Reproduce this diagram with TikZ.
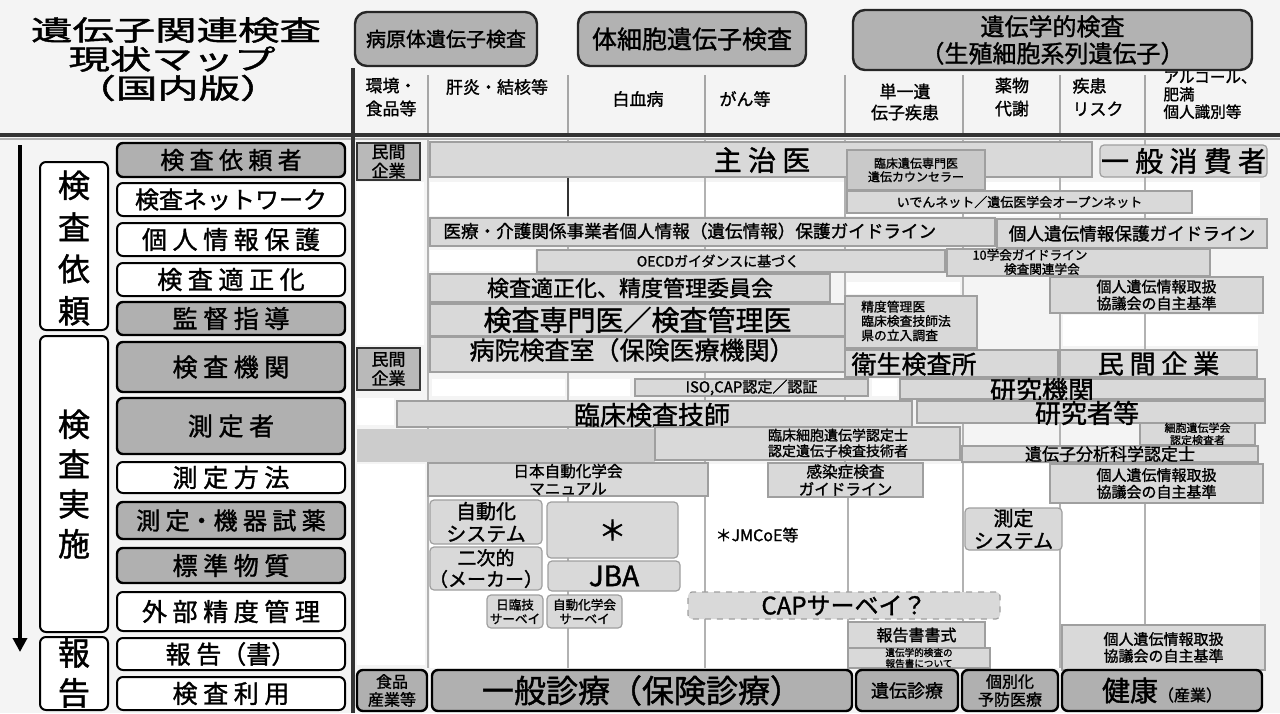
\documentclass[tikz,border=0pt]{standalone}
\usepackage{fontspec}
\setmainfont{Noto Sans CJK JP}[FakeBold=1.3]
\usetikzlibrary{fit,arrows.meta}
\newcommand{\fz}[1]{\fontsize{#1pt}{1.12\dimexpr#1pt\relax}\selectfont}
\newcommand{\bx}[8]{%
  \node[#6, fit={(#2,#3)(#4,#5)}, inner sep=0pt] (#1) {};
  \node[align=center, inner sep=0pt, font=\fz{#7}] (#1t) at (#1.center) {#8};}
\tikzset{
  dk/.style={draw=black, line width=1.2pt, rounded corners=3pt, fill=gray!62},
  dkr/.style={draw=black!80, line width=0.8pt, fill=gray!55},
  wt/.style={draw=black, line width=1pt, rounded corners=3pt, fill=white},
  lt/.style={draw=gray!75, line width=0.6pt, fill=gray!30},
  ltr/.style={draw=gray!75, line width=0.6pt, rounded corners=2pt, fill=gray!30},
  md/.style={draw=gray!75, line width=0.6pt, fill=gray!42},
  vl/.style={draw=gray!60, line width=0.6pt},
  hd/.style={draw=black!85, line width=1.2pt, rounded corners=6pt, fill=gray!60},
  tx/.style={inner sep=0pt, align=center},
}
\begin{document}
\begin{tikzpicture}[x=0.5pt,y=-0.5pt]
\useasboundingbox (0,0) rectangle (1280,713);
\fill[gray!9] (0,0) rectangle (1280,713);
% title
\node[tx, font=\fz{15}] (t1) at (176,30) {\scalebox{1.38}[0.92]{遺伝子関連検査}};
\node[tx, font=\fz{15}] (t2) at (172,59) {\scalebox{1.38}[0.92]{現状マップ}};
\node[tx, font=\fz{15}] (t3) at (178,88) {\scalebox{1.38}[0.92]{（国内版）}};
% header boxes
\bx{hb1}{355}{12}{537}{66}{hd}{10}{病原体遺伝子検査}
\bx{hb2}{578}{12}{806}{66}{hd}{12.5}{体細胞遺伝子検査}
\bx{hb3}{853}{10}{1252}{70}{hd}{12}{遺伝学的検査\\（生殖細胞系列遺伝子）}
% column headers
\node[tx, align=left, font=\fz{8.5}] (c1) at (391,97) {環境・\\[2pt]食品等};
\node[tx, font=\fz{8.5}] (c2) at (497,87) {肝炎・結核等};
\node[tx, font=\fz{8.5}] (c3) at (638,99) {白血病};
\node[tx, font=\fz{8.5}] (c4) at (745,99) {がん等};
\node[tx, font=\fz{8.5}] (c5) at (905,102) {単一遺\\[1pt]伝子疾患};
\node[tx, font=\fz{8.5}] (c6) at (1012,97) {薬物\\[2pt]代謝};
\node[tx, align=left, font=\fz{8.5}] (c7) at (1098,97) {疾患\\[2pt]リスク};
\node[tx, align=left, font=\fz{7.8}] (c8) at (1210,95) {アルコール、\\肥満\\個人識別等};
% header lines
\foreach \xx in {428,568,705,845,963,1060,1145} \draw[gray!70,line width=0.8pt] (\xx,75) -- (\xx,133);
\draw[black!80,line width=1.8pt] (0,135) -- (1280,135);
\draw[gray!60,line width=0.6pt] (0,139) -- (1280,139);
% body vertical lines
\foreach \xx in {428,568,705,845,963,1060,1145} \draw[vl] (\xx,139) -- (\xx,668);
% white areas
\fill[white] (357,182) rectangle (424,345);
\fill[white] (357,398) rectangle (394,425);
\fill[white] (357,464) rectangle (425,665);
\fill[white] (430,182) rectangle (1260,216);
\fill[white] (430,464) rectangle (1260,668);
\fill[white] (847,282) rectangle (960,294);
\fill[white] (1063,315) rectangle (1258,346);
\foreach \xx in {568,705,845,963,1060,1145} \draw[vl] (\xx,182) -- (\xx,216);
\foreach \xx in {568,705,848,963,1060,1145} \draw[vl] (\xx,464) -- (\xx,668);
\draw[vl] (1145,315) -- (1145,346);
\draw[black!80,line width=1pt] (568,177) -- (568,216);
\draw[black!80,line width=2pt] (353,68) -- (353,713);
% left arrow and groups
\draw[line width=2.2pt,-{Triangle[length=7pt,width=7pt]}] (20,145) -- (20,652);
\bx{g1}{40}{162}{108}{330}{wt}{16}{}
\node[tx, font=\fz{16}] (g1l) at (74,248) {検\\[3pt]査\\[3pt]依\\[3pt]頼};
\bx{g2}{40}{336}{108}{632}{wt}{16}{}
\node[tx, font=\fz{16}] (g2l) at (74,484) {検\\[2pt]査\\[2pt]実\\[2pt]施};
\bx{g3}{40}{637}{108}{710}{wt}{16}{}
\node[tx, font=\fz{16}] (g3l) at (74,673) {報\\[2pt]告};
% row labels
\bx{r1}{117}{143}{345}{177}{dk}{12}{検 査 依 頼 者}
\bx{r2}{117}{183}{345}{216}{wt}{12}{検査ネットワーク}
\bx{r3}{117}{223}{345}{256}{wt}{12.5}{個 人 情 報 保 護}
\bx{r4}{117}{263}{345}{296}{wt}{12.5}{検 査 適 正 化}
\bx{r5}{117}{302}{345}{335}{dk}{12.5}{監 督 指 導}
\bx{r6}{117}{342}{345}{392}{dk}{12.5}{検 査 機 関}
\bx{r7}{117}{398}{345}{454}{dk}{12.5}{測 定 者}
\bx{r8}{117}{462}{345}{493}{wt}{12.5}{測 定 方 法}
\bx{r9}{117}{502}{345}{539}{dk}{12}{測 定・機 器 試 薬}
\bx{r10}{117}{548}{345}{583}{dk}{12.5}{標 準 物 質}
\bx{r11}{117}{592}{345}{631}{wt}{12.5}{外 部 精 度 管 理}
\bx{r12}{117}{638}{345}{670}{wt}{12.5}{報 告（書）}
\bx{r13}{117}{677}{345}{710}{wt}{12.5}{検 査 利 用}
% row 1
\bx{mk1}{357}{143}{420}{180}{dkr}{8.5}{民間\\企業}
\bx{shu}{430}{142}{1092}{177}{lt}{14}{}
\node[tx, font=\fz{14}] (shut) at (762,160) {主 治 医};
\bx{rinsho}{847}{150}{985}{190}{md}{6}{臨床遺伝専門医\\遺伝カウンセラー}
\bx{ippan}{1100}{145}{1267}{177}{ltr}{14}{一 般 消 費 者}
% row 2
\bx{iden}{847}{191}{1192}{213}{lt}{6.5}{いでんネット／遺伝医学会オープンネット}
% row 3
\bx{iryo}{430}{218}{995}{246}{lt}{9}{}
\node[inner sep=0pt, anchor=west, font=\fz{8.8}] (iryot) at (443,231) {医療・介護関係事業者個人情報（遺伝情報）保護ガイドライン};
\bx{kojin}{997}{219}{1267}{248}{lt}{8.8}{個人遺伝情報保護ガイドライン}
\fill[white] (430,250) rectangle (535,271);
\bx{oecd}{537}{250}{945}{272}{lt}{7}{}
\node[tx, font=\fz{7}] (oecdt) at (718,261) {OECDガイダンスに基づく};
\bx{gakkai}{947}{249}{1210}{276}{lt}{6.5}{}
\node[tx, align=left, font=\fz{6.3}] (gakkait) at (1030,262) {10学会ガイドライン\\\hspace{2.5em}検査関連学会};
% row 4
\bx{tekisei}{430}{274}{830}{302}{lt}{11}{検査適正化、精度管理委員会}
\bx{jishu1}{1050}{277}{1263}{313}{lt}{7.5}{個人遺伝情報取扱\\協議会の自主基準}
% row 5
\bx{senmon}{430}{304}{845}{336}{lt}{14}{検査専門医／検査管理医}
\bx{seido}{845}{296}{977}{348}{lt}{6.2}{}
\node[tx, align=left, font=\fz{6.4}] (seidot) at (906,321) {精度管理医\\臨床検査技師法\\県の立入調査};
% row 6
\bx{mk2}{357}{348}{420}{390}{dkr}{8.5}{民間\\企業}
\bx{byoin}{430}{337}{845}{372}{lt}{12}{}
\node[tx, font=\fz{12.5}] (byoint) at (632,350) {病院検査室（保険医療機関）};
\bx{eisei}{845}{350}{1058}{377}{lt}{12}{}
\node[tx, font=\fz{12.5}] (eiseit) at (914,364) {衛生検査所};
\bx{minkan}{1060}{350}{1257}{377}{lt}{13}{民 間 企 業}
\fill[white] (432,379) rectangle (565,396);
\fill[white] (570,379) rectangle (630,396);
\bx{iso}{635}{379}{868}{396}{lt}{7.5}{ISO,CAP認定／認証}
\fill[white] (872,379) rectangle (897,396);
\bx{kenkyu}{900}{379}{1265}{399}{lt}{13}{}
\node[tx, font=\fz{13}] (kenkyut) at (1042,390) {研究機関};
% row 7
\bx{gishi}{397}{401}{912}{427}{lt}{13}{}
\node[tx, font=\fz{13}] (gishit) at (652,415) {臨床検査技師};
\bx{kenkyusha}{917}{401}{1265}{423}{lt}{13}{}
\node[tx, font=\fz{13}] (kenkyushat) at (1087,413) {研究者等};
\fill[gray!40] (357,429) rectangle (655,462);
\bx{saibo}{655}{427}{960}{460}{lt}{7}{}
\node[tx, align=right, font=\fz{7}] (saibot) at (838,443) {臨床細胞遺伝学認定士\\認定遺伝子検査技術者};
\bx{nintei}{1140}{423}{1255}{445}{lt}{5.5}{細胞遺伝学会\\認定検査者}
\bx{bunseki}{962}{446}{1258}{462}{lt}{8.5}{遺伝子分析科学認定士}
% row 8
\bx{manual}{428}{463}{708}{496}{lt}{7.8}{日本自動化学会\\マニュアル}
\bx{kansen}{768}{463}{923}{497}{lt}{7.8}{感染症検査\\ガイドライン}
\bx{jishu2}{1050}{464}{1263}{503}{lt}{7.5}{個人遺伝情報取扱\\協議会の自主基準}
% row 9
\bx{jidou}{430}{500}{542}{544}{ltr}{10}{自動化\\システム}
\bx{ast}{547}{502}{678}{558}{ltr}{14}{＊}
\node[tx, font=\fz{8}] (jmcoe) at (757,535) {＊JMCoE等};
\bx{sokutei}{965}{508}{1062}{550}{ltr}{10}{測定\\システム}
% row 10
\bx{niji}{430}{547}{542}{590}{ltr}{9.5}{二次的\\（メーカー）}
\bx{jba}{548}{561}{680}{591}{ltr}{14}{JBA}
% row 11
\bx{nichi}{487}{595}{543}{628}{ltr}{6.3}{日臨技\\サーベイ}
\bx{jisv}{547}{595}{622}{628}{ltr}{6.3}{自動化学会\\サーベイ}
\bx{cap}{688}{592}{1000}{619}{ltr,dashed}{12}{CAPサーベイ？}
% row 12
\bx{hokoku}{848}{622}{985}{648}{lt}{8}{報告書書式}
\bx{hokoku2}{848}{648}{990}{668}{lt}{4.8}{遺伝学的検査の\\報告書について}
\bx{jishu3}{1062}{625}{1265}{670}{lt}{7.5}{個人遺伝情報取扱\\協議会の自主基準}
% row 13
\bx{shokuhin}{357}{670}{427}{711}{dk}{8}{食品\\産業等}
\bx{shinryo}{432}{670}{852}{711}{dk}{16}{一般診療（保険診療）}
\bx{iden2}{856}{670}{958}{711}{dk}{9}{遺伝診療}
\bx{kobetsu}{962}{670}{1058}{711}{dk}{8}{個別化\\予防医療}
\bx{kenko}{1062}{670}{1262}{711}{dk}{14}{健康{\fz{8}（産業）}}
\end{tikzpicture}
\end{document}
